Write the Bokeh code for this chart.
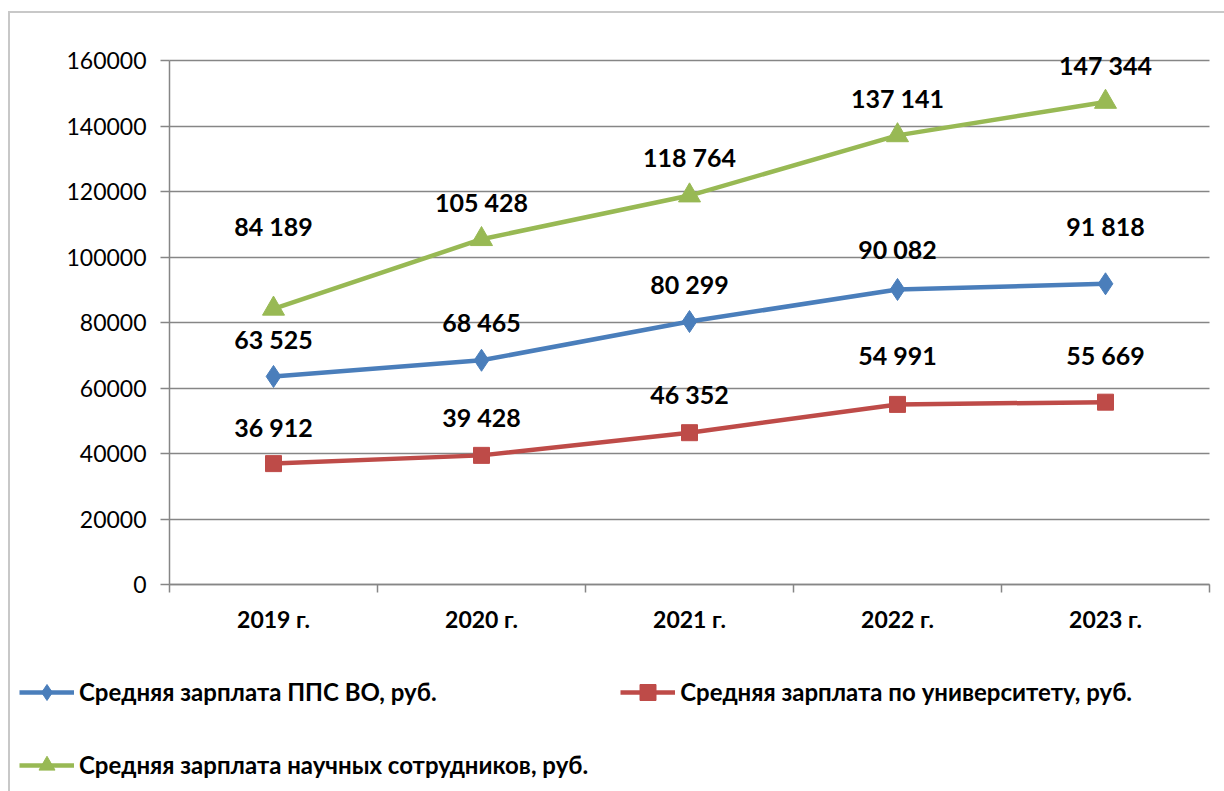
from bokeh.plotting import figure
from bokeh.models import (ColumnDataSource, Range1d, FixedTicker, NumeralTickFormatter,
                          Legend, LegendItem)
from bokeh.core.properties import value
from bokeh.embed import file_html
from bokeh.resources import INLINE

categories = ["2019 г.", "2020 г.", "2021 г.", "2022 г.", "2023 г."]
pps = [63525, 68465, 80299, 90082, 91818]
univ = [36912, 39428, 46352, 54991, 55669]
sci = [84189, 105428, 118764, 137141, 147344]
names = ["Средняя зарплата ППС ВО, руб.",
         "Средняя зарплата по университету, руб.",
         "Средняя зарплата научных сотрудников, руб."]
y_ticks = [0, 20000, 40000, 60000, 80000, 100000, 120000, 140000, 160000]

# label vertical offsets (px, screen) – style only
pps_dy = [-37, -38, -38, -40, -58]
univ_dy = [-37, -38, -39, -49, -47]
sci_dy = [-83, -37, -39, -37, -37]

FONT = "Lato"
n = len(categories)
xs = [i + 0.5 for i in range(n)]
y_max = y_ticks[-1]

# layout geometry (screen px): canvas spans the whole figure
W, H = 1216, 780
ox, oy = 11, 14            # canvas origin on the page
plot_left, cat_w = 170, 208  # category axis start and width per category
y0_px, ytop_px = 585, 61     # pixel rows of 0 and of the top tick
ppu = (y0_px - ytop_px) / y_max
x_start = (ox - plot_left) / cat_w
x_end = (ox + W - plot_left) / cat_w
y_start = -(oy + H - y0_px) / ppu
y_end = (y0_px - oy) / ppu

p = figure(width=W, height=H, output_backend="svg", toolbar_location=None,
           x_range=Range1d(x_start, x_end), y_range=Range1d(y_start, y_end),
           min_border=0, min_border_left=0, min_border_right=0,
           min_border_top=0, min_border_bottom=0)
p.margin = (11, 0, 0, 8)
p.styles = {"border-left": "2px solid #c8c8c8", "border-top": "2px solid #c8c8c8",
            "box-sizing": "border-box"}
p.outline_line_color = None
p.xgrid.visible = False

grid_ok = True
try:
    p.ygrid.cross_bounds = (0, n)
except Exception:
    grid_ok = False
if grid_ok:
    p.ygrid.grid_line_color = "#868686"
    p.ygrid.grid_line_width = 1.5
    p.ygrid.ticker = FixedTicker(ticks=y_ticks)
    p.ygrid.bounds = (0, y_max)
else:
    p.ygrid.visible = False
    p.segment(x0=0, x1=n, y0=y_ticks, y1=y_ticks, line_color="#868686", line_width=1.5)

p.yaxis.fixed_location = 0
p.yaxis.ticker = FixedTicker(ticks=y_ticks)
p.yaxis.bounds = (0, y_max)
p.yaxis.formatter = NumeralTickFormatter(format="0")
p.yaxis.axis_line_color = "#868686"
p.yaxis.axis_line_width = 1.5
p.yaxis.major_tick_line_color = "#868686"
p.yaxis.major_tick_line_width = 1.5
p.yaxis.major_tick_in = 0
p.yaxis.major_tick_out = 9
p.yaxis.minor_tick_line_color = None
p.yaxis.major_label_text_font = FONT
p.yaxis.major_label_text_font_size = "23px"
p.yaxis.major_label_text_color = "black"
p.yaxis.major_label_standoff = 14

p.xaxis.fixed_location = 0
p.xaxis.bounds = (0, n)
p.xaxis.ticker = FixedTicker(ticks=xs, minor_ticks=list(range(n + 1)))
p.xaxis.major_label_overrides = {x: c for x, c in zip(xs, categories)}
p.xaxis.axis_line_color = "#868686"
p.xaxis.axis_line_width = 1.5
p.xaxis.major_tick_line_color = None
p.xaxis.major_tick_out = 0
p.xaxis.major_tick_in = 0
p.xaxis.minor_tick_line_color = "#868686"
p.xaxis.minor_tick_line_width = 1.5
p.xaxis.minor_tick_in = 0
p.xaxis.minor_tick_out = 8
p.xaxis.major_label_text_font = FONT
p.xaxis.major_label_text_font_style = "bold"
p.xaxis.major_label_text_font_size = "23px"
p.xaxis.major_label_text_color = "black"
p.xaxis.major_label_standoff = 12

series = [
    (pps, pps_dy, "#4A7EBB", "diamond", 22),
    (univ, univ_dy, "#BE4B48", "square", 16),
    (sci, sci_dy, "#98B954", "triangle", 22),
]

items = []
for (vals, dy, color, marker, size), name in zip(series, names):
    src = ColumnDataSource(dict(x=xs, y=vals, dy=dy,
                                lab=[f"{v:,}".replace(",", " ") for v in vals]))
    l = p.line("x", "y", source=src, line_color=color, line_width=4.5)
    m = p.scatter("x", "y", source=src, marker=marker, size=size,
                  fill_color=color, line_color=color)
    p.text("x", "y", text="lab", source=src, y_offset="dy", text_align="center",
           text_baseline="middle", text_font=value(FONT), text_font_style="bold",
           text_font_size="25px", text_color="black")
    items.append(LegendItem(label=name, renderers=[l, m]))

legend = Legend(items=items, location=(9, 8), ncols=2, orientation="horizontal",
                glyph_width=55, glyph_height=40, label_height=41, spacing=32,
                label_standoff=5, padding=0, margin=0,
                label_text_font=FONT, label_text_font_style="bold",
                label_text_font_size="24px", label_text_color="black",
                background_fill_alpha=0, border_line_color=None)
p.add_layout(legend, "center")

open("out.html", "w").write(file_html(p, INLINE))
